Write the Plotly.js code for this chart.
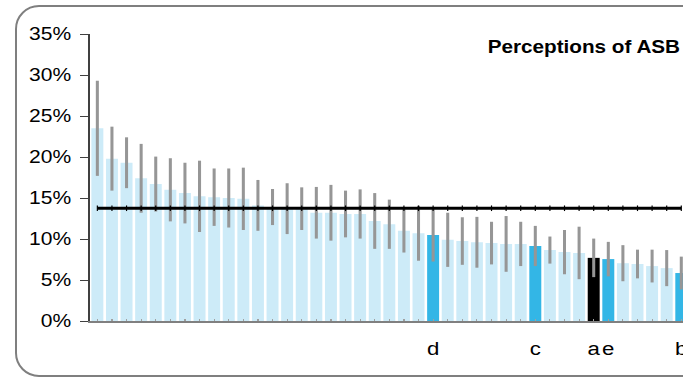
<!DOCTYPE html>
<html>
<head>
<meta charset="utf-8">
<script src="https://cdn.plot.ly/plotly-3.0.1.min.js"></script>
<style>
  html, body { margin: 0; padding: 0; background: #ffffff; overflow: hidden; width: 683px; height: 379px; }
  #frame { position: absolute; left: 15px; top: 5px; width: 720px; height: 368px; border: 2px solid #7f7f7f; border-radius: 24px; }
  #wrap { position: absolute; left: 0; top: 0; width: 620px; height: 379px; transform: scaleX(1.1695); transform-origin: 0 0; }
  #chart { width: 620px; height: 379px; }
</style>
</head>
<body>
<div id="frame"></div>
<div id="wrap"><div id="chart"></div></div>
<script>
// Percentages (areas ranked by value)
const values = [23.5, 19.8, 19.3, 17.4, 16.7, 16.0, 15.6, 15.2, 15.1, 15.0,
                14.9, 14.1, 13.9, 13.7, 13.7, 13.2, 13.2, 13.05, 13.05, 12.2,
                11.8, 11.0, 10.7, 10.5, 9.9, 9.75, 9.6, 9.5, 9.4, 9.4,
                9.15, 8.65, 8.4, 8.3, 7.7, 7.55, 7.05, 6.95, 6.7, 6.45,
                5.85];
const errors = [5.8, 3.9, 3.1, 4.2, 3.35, 3.85, 3.7, 4.35, 3.5, 3.6,
                3.8, 3.1, 2.2, 3.1, 2.6, 3.15, 3.4, 2.85, 3.0, 3.4,
                3.0, 2.65, 3.35, 3.25, 3.3, 2.9, 3.1, 2.6, 3.4, 2.7,
                2.45, 1.65, 2.7, 3.2, 2.35, 2.1, 2.2, 1.75, 2.0, 2.2,
                2.0];
// category tick labels (only the highlighted areas are named)
const tickLabels = ['', '', '', '', '', '', '', '', '', '',
                    '', '', '', '', '', '', '', '', '', '',
                    '', '', '', 'd', '', '', '', '', '', '',
                    'c', '', '', '', 'a', 'e', '', '', '', '',
                    'b'];
// group of each bar: 0 = other area, 1 = comparison area, 2 = this area
const groups = [0, 0, 0, 0, 0, 0, 0, 0, 0, 0,
                0, 0, 0, 0, 0, 0, 0, 0, 0, 0,
                0, 0, 0, 1, 0, 0, 0, 0, 0, 0,
                1, 0, 0, 0, 2, 1, 0, 0, 0, 0,
                1];
const averageValue = 13.75;
const chartTitle = 'Perceptions of ASB';

const groupColors = ['#CDEBF8', '#33B6E6', '#000000'];
const positions = values.map((v, i) => i);

const bars = {
  type: 'bar',
  x: positions,
  y: values,
  marker: { color: groups.map(g => groupColors[g]), line: { width: 0 } },
  error_y: { type: 'data', array: errors, visible: true, color: '#969696', thickness: 2.6, width: 0 },
  hoverinfo: 'skip',
  showlegend: false
};

const average = {
  type: 'scatter',
  mode: 'lines+markers',
  x: positions,
  y: positions.map(() => averageValue),
  line: { color: '#000000', width: 3 },
  marker: { symbol: 'line-ns', size: 4, line: { color: '#000000', width: 1 } },
  hoverinfo: 'skip',
  showlegend: false
};

const font = 'Liberation Sans, Arial, Helvetica, sans-serif';

// The figure is wider than the visible window: the reference is cropped on its right side.
const layout = {
  width: 620,
  height: 379,
  margin: { l: 77, r: 0, t: 34, b: 58, pad: 0 },
  paper_bgcolor: 'rgba(0,0,0,0)',
  plot_bgcolor: 'rgba(0,0,0,0)',
  bargap: 0.18,
  showlegend: false,
  font: { family: font, color: '#000000' },
  title: {
    text: '<b>' + chartTitle + '</b>',
    font: { family: font, size: 17.7, color: '#000000' },
    xref: 'container', yref: 'container',
    x: 581.5 / 620, xanchor: 'right',
    y: 1 - 47 / 379, yanchor: 'middle'
  },
  xaxis: {
    type: 'linear',
    range: [-0.5, 43.0],
    showgrid: false,
    zeroline: false,
    showline: true,
    linecolor: '#808080',
    linewidth: 2,
    ticks: 'inside',
    ticklen: 2,
    tickwidth: 1,
    tickcolor: '#a0a0a0',
    tickmode: 'array',
    tickvals: positions,
    ticktext: tickLabels,
    tickangle: 0,
    tickfont: { family: font, size: 19, color: '#000000' },
    ticklabelstandoff: 9,
    fixedrange: true
  },
  yaxis: {
    range: [0, 35],
    dtick: 5,
    ticksuffix: '%',
    showgrid: false,
    zeroline: false,
    showline: true,
    linecolor: '#404040',
    linewidth: 1.5,
    ticks: 'outside',
    ticklen: 7,
    tickwidth: 1,
    tickcolor: '#404040',
    tickfont: { family: font, size: 18, color: '#000000' },
    ticklabelstandoff: 4,
    fixedrange: true
  }
};

Plotly.newPlot('chart', [bars, average], layout, { displayModeBar: false, staticPlot: true });
</script>
</body>
</html>
